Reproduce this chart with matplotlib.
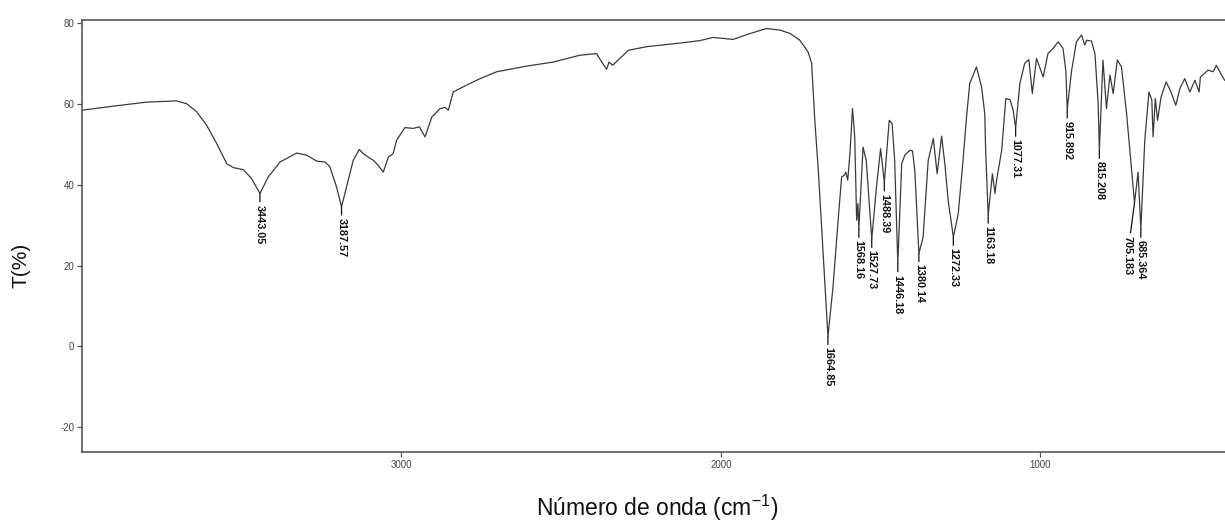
import numpy as np
import matplotlib
matplotlib.use("Agg")
import matplotlib.pyplot as plt

# IR spectrum (wavenumber in cm-1, transmittance in %)
wavenumber = [
    4000, 3902, 3798, 3704, 3672, 3641, 3610, 3578, 3547, 3526,
    3495, 3469, 3443.05, 3417, 3380, 3328, 3297, 3265, 3239, 3224,
    3203, 3187.57, 3172, 3151, 3132, 3120, 3104, 3088, 3073, 3057,
    3041, 3026, 3015, 2989, 2963, 2944, 2926, 2905, 2879, 2864,
    2853, 2838, 2796, 2754, 2702, 2608, 2525, 2441, 2389, 2373,
    2358, 2350, 2339, 2316, 2290, 2233, 2128, 2066, 2024, 1962,
    1915, 1857, 1815, 1784, 1753, 1727, 1716, 1706, 1695, 1680,
    1664.85, 1649, 1633, 1622, 1614, 1609, 1603, 1596, 1588, 1581,
    1575, 1571, 1568.16, 1555, 1545, 1527.73, 1513, 1500, 1488.39, 1473,
    1464, 1456, 1446.18, 1434, 1424, 1408, 1400, 1393, 1380.14, 1367,
    1351, 1346, 1335, 1323, 1309, 1299, 1288, 1278, 1272.33, 1257,
    1242, 1231, 1221, 1200, 1184, 1174, 1171, 1163.18, 1150, 1142,
    1137, 1121, 1108, 1095, 1085, 1077.31, 1064, 1049, 1036, 1025,
    1012, 991, 976, 960, 944, 929, 920, 915.892, 902, 887,
    871, 861, 855, 840, 829, 819, 815.208, 804, 793, 782,
    772, 759, 746, 730, 714, 705.183, 694, 685.364, 673, 660,
    651, 647, 640, 633, 622, 606, 591, 576, 563, 548,
    532, 516, 503, 499, 475, 459, 449, 433, 423, 400,
]
transmittance = [
    58.4, 59.4, 60.4, 60.7, 60.0, 58.0, 54.7, 50.1, 45.2, 44.2,
    43.7, 41.5, 37.8, 41.9, 45.6, 47.8, 47.3, 45.8, 45.6, 44.4,
    39.4, 34.5, 39.4, 46.0, 48.7, 47.7, 46.8, 46.0, 44.8, 43.1,
    46.8, 47.7, 51.0, 54.1, 53.9, 54.3, 51.8, 56.7, 58.8, 59.1,
    58.4, 62.9, 64.6, 66.2, 67.9, 69.3, 70.3, 72.0, 72.4, 70.3,
    68.5, 70.3, 69.5, 71.2, 73.2, 74.1, 75.0, 75.6, 76.4, 75.9,
    77.2, 78.6, 78.2, 77.4, 75.7, 72.8, 70.0, 55.9, 43.5, 22.9,
    2.5, 14.7, 31.2, 41.9, 42.3, 43.1, 41.1, 47.7, 58.8, 51.8,
    31.2, 35.3, 29.0, 49.3, 46.0, 26.5, 39.4, 48.9, 40.5, 55.9,
    55.1, 46.0, 20.5, 45.2, 47.3, 48.5, 48.3, 43.5, 23.0, 27.0,
    46.0, 47.7, 51.4, 42.7, 52.0, 45.2, 35.7, 30.3, 27.0, 32.8,
    46.0, 56.7, 65.0, 69.1, 64.2, 57.6, 48.0, 32.5, 42.7, 37.8,
    41.1, 48.5, 61.3, 61.0, 58.4, 54.0, 65.0, 70.0, 70.9, 62.5,
    71.2, 66.6, 72.4, 73.7, 75.3, 73.7, 68.0, 58.5, 68.3, 75.3,
    77.0, 74.5, 75.7, 75.5, 72.4, 60.0, 48.5, 70.8, 58.8, 67.1,
    62.5, 70.8, 69.1, 57.6, 43.5, 35.5, 43.1, 29.0, 51.0, 62.9,
    60.9, 51.8, 61.3, 55.9, 61.7, 65.4, 62.9, 59.6, 63.8, 66.2,
    62.9, 65.8, 62.9, 66.6, 68.3, 67.9, 69.5, 67.1, 65.8, 65.0,
]

peak_labels = [
    "3443.05", "3187.57", "1664.85", "1568.16", "1527.73", "1488.39",
    "1446.18", "1380.14", "1272.33", "1163.18", "1077.31", "915.892",
    "815.208", "705.183", "685.364",
]

x_ticks = [3000, 2000, 1000]
y_ticks = [-20, 0, 20, 40, 60, 80]

assert len(wavenumber) == len(transmittance)

plt.rcParams["font.family"] = ["Liberation Sans", "DejaVu Sans"]
plt.rcParams["axes.unicode_minus"] = False
plt.rcParams["mathtext.fontset"] = "custom"
plt.rcParams["mathtext.rm"] = "Liberation Sans"
plt.rcParams["mathtext.it"] = "Liberation Sans"

fig = plt.figure(figsize=(12.25, 5.23), dpi=100)
# the right edge of the plot box sits just outside the image, as in the reference
ax = fig.add_axes([82 / 1225, 1 - 452 / 523, 1150 / 1225, 432 / 523])

ax.plot(wavenumber, transmittance, color="#3a3a3a", lw=0.9)

ax.set_xlim(4000, 400)
ax.set_ylim(-26.1, 80.7)
ax.set_xticks(x_ticks)
ax.set_yticks(y_ticks)
ax.tick_params(direction="out", length=3.5, width=0.9, color="#555555",
               labelsize=7, labelcolor="#444444", pad=2)
for side in ["left", "bottom", "top", "right"]:
    ax.spines[side].set_color("#4a4a4a")
    ax.spines[side].set_linewidth(1.1)

# peak labels: short tick line from the band minimum, text running downwards
wn_inc = np.array(wavenumber[::-1])
t_inc = np.array(transmittance[::-1])
special_offset = {"705.183": (-7, -33)}
for lab in peak_labels:
    wn = float(lab)
    t = np.interp(wn, wn_inc, t_inc)
    dx, dy = special_offset.get(lab, (0, -11))
    ax.annotate(lab, xy=(wn, t), xytext=(dx, dy), textcoords="offset pixels",
                rotation=270, ha="center", va="top", fontsize=7.8,
                fontweight="bold", color="#111111",
                arrowprops=dict(arrowstyle="-", color="#111111", lw=0.9,
                                shrinkA=0, shrinkB=0))

ax.set_xlabel("Número de onda (cm$^{-1}$)", fontsize=16.5, color="#111111")
ax.xaxis.label.set_verticalalignment("baseline")
ax.xaxis.set_label_coords(0.5, -0.149)

ax.set_ylabel("T(%)", fontsize=15, color="#111111")
ax.yaxis.label.set_verticalalignment("center")
ax.yaxis.set_label_coords(-0.053, 0.433)

fig.savefig("out.png", dpi=100)
